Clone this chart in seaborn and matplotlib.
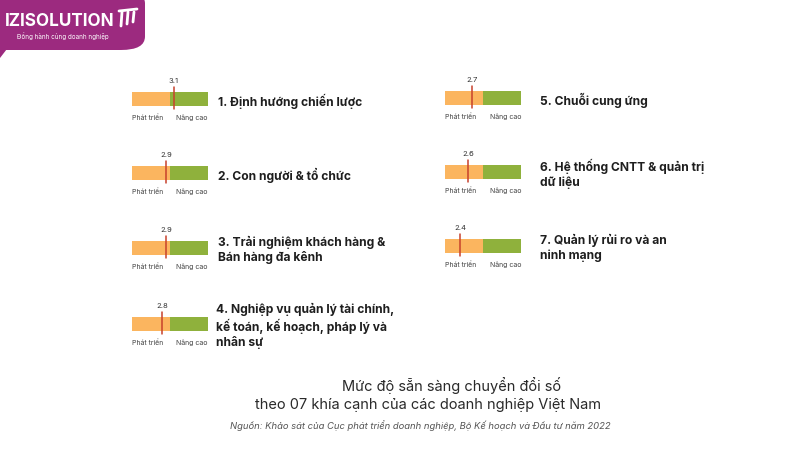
import numpy as np
import pandas as pd
import matplotlib
matplotlib.use("Agg")
import matplotlib.pyplot as plt
from matplotlib.patches import FancyBboxPatch, Polygon
import seaborn as sns

# 7 khía cạnh và điểm trung bình
categories = [
    "1. Định hướng chiến lược",
    "2. Con người & tổ chức",
    "3. Trải nghiệm khách hàng &\nBán hàng đa kênh",
    "4. Nghiệp vụ quản lý tài chính,\nkế toán, kế hoạch, pháp lý và\nnhân sự",
    "5. Chuỗi cung ứng",
    "6. Hệ thống CNTT & quản trị\ndữ liệu",
    "7. Quản lý rủi ro và an\nninh mạng",
]
scores = [3.1, 2.9, 2.9, 2.8, 2.7, 2.6, 2.4]
levels = ["Phát triển", "Nâng cao"]
scale = [2.0, 3.0, 4.0]  # đầu thang, ranh giới, cuối thang

title_lines = ["Mức độ sẵn sàng chuyển đổi số",
               "theo 07 khía cạnh của các doanh nghiệp Việt Nam"]
source = "Nguồn: Khảo sát của Cục phát triển doanh nghiệp, Bộ Kế hoạch và Đầu tư năm 2022"
brand = "IZISOLUTION"
slogan = "Đồng hành cùng doanh nghiệp"

sns.set_style("white")
plt.rcParams["font.family"] = ["Inter", "DejaVu Sans"]

ORANGE = "#fbb55f"
GREEN = "#8fb13c"
RED = "#c8412c"
DARK = "#1e1e1e"
MAGENTA = "#9c2a7f"

W, H = 800, 450
fig = plt.figure(figsize=(8, 4.5), dpi=100)
fig.patch.set_facecolor("white")

def fx(x):
    return x / W

def fy(y):
    return 1 - y / H

# vị trí (pixel) của từng thanh
bar_x = [132, 132, 132, 132, 445, 445, 445]
bar_y = [99, 173, 248, 324, 98, 172, 246]
text_x = [218, 218, 218, 216, 540, 540, 540]
bw, bh = 76, 14

for i in range(len(categories)):
    ax = fig.add_axes([fx(bar_x[i]), fy(bar_y[i] + bh / 2), bw / W, bh / H])
    sns.barplot(x=[scale[2]], y=["a"], orient="h", color=GREEN, width=1,
                saturation=1, linewidth=0, edgecolor="none", ax=ax)
    sns.barplot(x=[scale[1]], y=["a"], orient="h", color=ORANGE, width=1,
                saturation=1, linewidth=0, edgecolor="none", ax=ax)
    ax.set_xlim(scale[0], scale[2])
    ax.set_ylim(0.5, -0.5)
    ax.axis("off")
    v = scores[i]
    ax.plot([v, v], [-0.85, 0.7], color=RED, lw=1.1, clip_on=False)
    ax.text(v, -1.3, f"{v}", ha="center", va="center", fontsize=5.5, color="#333")
    ax.text(scale[0], 1.35, levels[0], ha="left", va="center", fontsize=5, color="#444")
    ax.text(scale[2], 1.35, levels[1], ha="right", va="center", fontsize=5, color="#444")
    fig.text(fx(text_x[i]), fy(bar_y[i] + 2), categories[i], ha="left", va="center",
             fontsize=8.7, fontweight="bold", color=DARK, linespacing=1.25)

# tiêu đề & nguồn
fig.text(fx(452), fy(385), title_lines[0], ha="center", va="center",
         fontsize=10.5, color="#2a2a2a")
fig.text(fx(428), fy(405), title_lines[1], ha="center", va="center",
         fontsize=10.5, color="#2a2a2a")
fig.text(fx(420), fy(426), source, ha="center", va="center",
         fontsize=6.8, style="italic", color="#555")

# logo góc trái
fig.patches.append(FancyBboxPatch((fx(-30), fy(50)), fx(175), 60 / H,
                                  boxstyle="round,pad=0,rounding_size=0.03",
                                  transform=fig.transFigure, facecolor=MAGENTA,
                                  edgecolor="none"))
fig.patches.append(Polygon([(fx(0), fy(45)), (fx(10), fy(45)), (fx(0), fy(58))],
                           closed=True, transform=fig.transFigure,
                           facecolor=MAGENTA, edgecolor="none"))
fig.text(fx(5), fy(21), brand, ha="left", va="center", fontsize=12.3,
         fontweight="bold", color="white")
fig.text(fx(17), fy(36), slogan, ha="left", va="center", fontsize=4.5, color="white")
for k, dx in enumerate([121, 127, 133]):
    fig.lines.append(plt.Line2D([fx(dx), fx(dx + 1)], [fy(26 - k * 2), fy(12)],
                                transform=fig.transFigure, color="white", lw=2))
fig.lines.append(plt.Line2D([fx(119), fx(137)], [fy(11), fy(9)],
                            transform=fig.transFigure, color="white", lw=2))

fig.savefig("out.png", dpi=100, facecolor="white")
